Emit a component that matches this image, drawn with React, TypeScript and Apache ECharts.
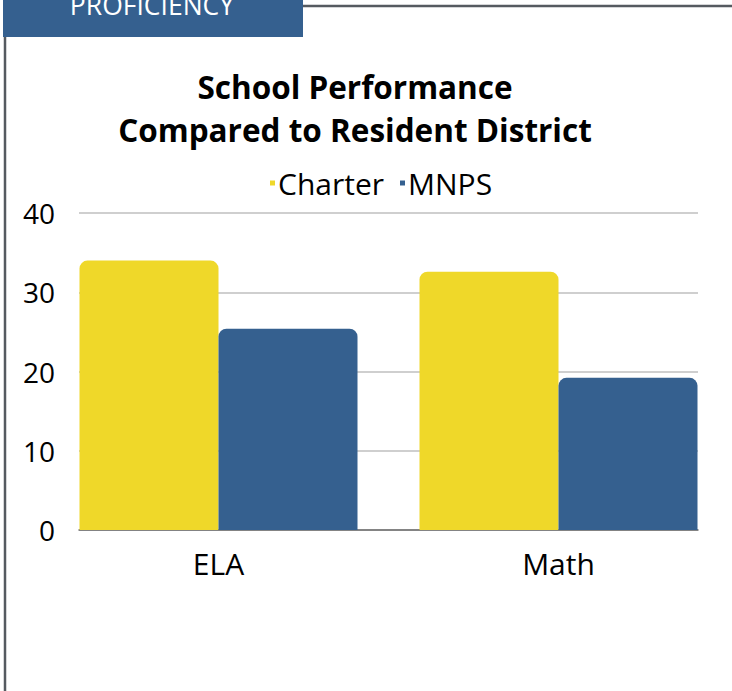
import React, { useEffect, useRef } from "react";
import * as echarts from "echarts";

const categories = ["ELA", "Math"];
const charterValues = [34.0, 32.6];
const mnpsValues = [25.4, 19.2];
const seriesNames = ["Charter", "MNPS"];
const yTicks = { min: 0, max: 40, interval: 10 };

const FONT = "'Open Sans', 'Noto Sans', sans-serif";
const YELLOW = "#EFD829";
const BLUE = "#35608F";

export default function App() {
  const ref = useRef<HTMLDivElement>(null);
  useEffect(() => {
    document.body.style.margin = "0";
    const chart = echarts.init(ref.current!, null, { renderer: "svg" });
    chart.setOption({
      animation: false,
      backgroundColor: "#ffffff",
      textStyle: { fontFamily: FONT },
      graphic: [
        { type: "rect", shape: { x: 3, y: 0, width: 300, height: 37 }, style: { fill: BLUE }, z: 10 },
        {
          type: "text", x: 152, y: 5, z: 11,
          style: { text: "PROFICIENCY", fill: "#ffffff", font: `26.5px ${FONT}`, textAlign: "center", textVerticalAlign: "middle" },
        },
        { type: "line", shape: { x1: 303, y1: 6, x2: 732, y2: 6 }, style: { stroke: "#555a60", lineWidth: 2.5 }, z: 10 },
        { type: "line", shape: { x1: 5, y1: 37, x2: 5, y2: 691 }, style: { stroke: "#555a60", lineWidth: 2.5 }, z: 10 },
        {
          type: "text", x: 355, y: 86, z: 11,
          style: { text: "School Performance", fill: "#000", font: `bold 31.5px ${FONT}`, textAlign: "center", textVerticalAlign: "middle" },
        },
        {
          type: "text", x: 355, y: 129, z: 11,
          style: { text: "Compared to Resident District", fill: "#000", font: `bold 31.5px ${FONT}`, textAlign: "center", textVerticalAlign: "middle" },
        },
      ],
      legend: {
        data: seriesNames,
        left: 265,
        top: 163,
        icon: "rect",
        itemWidth: 5,
        itemHeight: 5,
        itemGap: 16,
        textStyle: { fontSize: 30, color: "#000", fontFamily: FONT, padding: [0, 0, 0, -2] },
      },
      grid: [
        { left: 79, right: 34, top: 213, bottom: 161 },
        { left: 48.5, right: 3.5, top: 213, bottom: 161 },
      ],
      xAxis: [
        {
          type: "category", gridIndex: 0, data: categories,
          axisLine: { show: true, lineStyle: { color: "#6b6b6b", width: 1.5 } },
          axisTick: { show: false }, axisLabel: { show: false },
        },
        {
          type: "category", gridIndex: 1, data: categories,
          axisLine: { show: false }, axisTick: { show: false },
          axisLabel: { fontSize: 30, color: "#000", margin: 18, fontFamily: FONT },
        },
      ],
      yAxis: [
        {
          type: "value", gridIndex: 0, ...yTicks,
          axisLine: { show: false }, axisTick: { show: false },
          axisLabel: { fontSize: 28, color: "#000", margin: 24, fontFamily: FONT },
          splitLine: { lineStyle: { color: "#bfbfbf", width: 1.5 } },
        },
        {
          type: "value", gridIndex: 1, ...yTicks,
          show: false, splitLine: { show: false },
        },
      ],
      series: [
        {
          name: seriesNames[0], type: "bar", xAxisIndex: 1, yAxisIndex: 1,
          data: charterValues, barWidth: 139, barGap: "0%",
          itemStyle: { color: YELLOW, borderRadius: [8, 8, 0, 0] },
        },
        {
          name: seriesNames[1], type: "bar", xAxisIndex: 1, yAxisIndex: 1,
          data: mnpsValues, barWidth: 139, barGap: "0%",
          itemStyle: { color: BLUE, borderRadius: [8, 8, 0, 0] },
        },
      ],
    });
    return () => chart.dispose();
  }, []);
  return <div ref={ref} style={{ width: 732, height: 691, position: "absolute", left: 0, top: 0 }} />;
}
